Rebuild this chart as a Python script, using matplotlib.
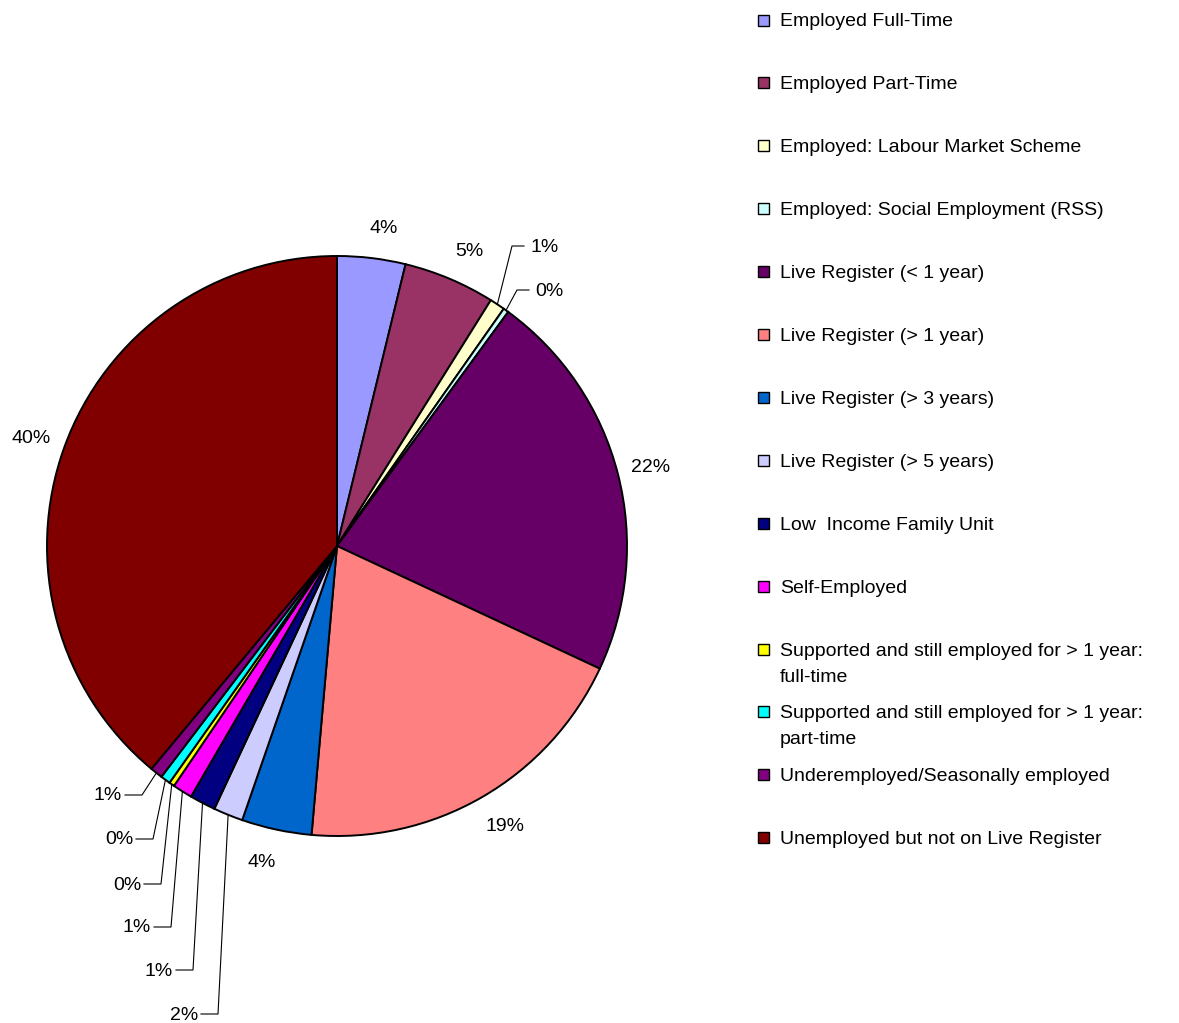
import numpy as np
import matplotlib
matplotlib.use("Agg")
import matplotlib.pyplot as plt
from matplotlib.patches import Rectangle

categories = [
    "Employed Full-Time",
    "Employed Part-Time",
    "Employed: Labour Market Scheme",
    "Employed: Social Employment (RSS)",
    "Live Register (< 1 year)",
    "Live Register (> 1 year)",
    "Live Register (> 3 years)",
    "Live Register (> 5 years)",
    "Low  Income Family Unit",
    "Self-Employed",
    "Supported and still employed for > 1 year:\nfull-time",
    "Supported and still employed for > 1 year:\npart-time",
    "Underemployed/Seasonally employed",
    "Unemployed but not on Live Register",
]
values = [3.8, 5.1, 0.85, 0.3, 21.9, 19.45, 3.9, 1.65, 1.45, 1.1, 0.3, 0.55, 0.7, 38.95]
pct_labels = ["4%", "5%", "1%", "0%", "22%", "19%", "4%", "2%", "1%", "1%",
              "0%", "0%", "1%", "40%"]
colors = ["#9999FF", "#993366", "#FFFFCC", "#CCFFFF", "#660066", "#FF8080",
          "#0066CC", "#CCCCFF", "#000080", "#FF00FF", "#FFFF00", "#00FFFF",
          "#800080", "#800000"]

W, H = 1179, 1023
fig = plt.figure(figsize=(W / 100, H / 100), dpi=100)
ax = fig.add_axes([0, 0, 1, 1])

FONT = "Liberation Sans"
FS = 14
cx, cy, R = 337, 546, 290

wedges, _ = ax.pie(values, colors=colors, startangle=-90, counterclock=True,
                   center=(cx, cy), radius=R, frame=True,
                   wedgeprops=dict(edgecolor="black", linewidth=1.4))
ax.set_xlim(0, W)
ax.set_ylim(H, 0)
ax.set_aspect("equal")
ax.axis("off")

total = sum(values)
cum = np.cumsum([0] + values[:-1])
mids = [360.0 * (c + v / 2) / total for c, v in zip(cum, values)]

# leader-line layouts: index -> (elbow x, elbow y, side)
leaders = {
    2: (512, 246, "right"),
    3: (517, 290, "right"),
    12: (142, 795, "left"),
    11: (153, 839, "left"),
    10: (161, 884, "left"),
    9: (171, 927, "left"),
    8: (193, 970, "left"),
    7: (218, 1014, "left"),
}

for i, (m, lab) in enumerate(zip(mids, pct_labels)):
    th = np.radians(m)
    if i in leaders:
        ex, ey, side = leaders[i]
        px = cx + R * np.sin(th)
        py = cy - R * np.cos(th)
        if side == "right":
            hx = ex + 12
            ax.plot([px, ex, hx], [py, ey, ey], color="black", lw=0.8)
            ax.text(hx + 6, ey + 1, lab, ha="left", va="center", fontsize=FS,
                    family=FONT, color="black")
        else:
            hx = ex - 17
            ax.plot([px, ex, hx], [py, ey, ey], color="black", lw=0.8)
            ax.text(hx - 3, ey + 1, lab, ha="right", va="center", fontsize=FS,
                    family=FONT, color="black")
    else:
        d = R * 1.11
        tx = cx + d * np.sin(th) + 8 * np.sign(np.sin(th)) * abs(np.cos(th))
        ty = cy - d * np.cos(th)
        ax.text(tx, ty + 2, lab, ha="center", va="center", fontsize=FS,
                family=FONT, color="black")

# legend
lx, ly0, step = 763, 20, 62.9
for i, (name, col) in enumerate(zip(categories, colors)):
    y = ly0 + step * i
    ax.add_patch(Rectangle((lx - 5.5, y - 5.5), 11, 11, facecolor=col,
                           edgecolor="black", lw=1.0))
    for j, line in enumerate(name.split("\n")):
        ax.text(780, y + 2 + 26 * j, line, ha="left", va="center", fontsize=FS,
                family=FONT, color="black")

fig.savefig("out.png", dpi=100)
